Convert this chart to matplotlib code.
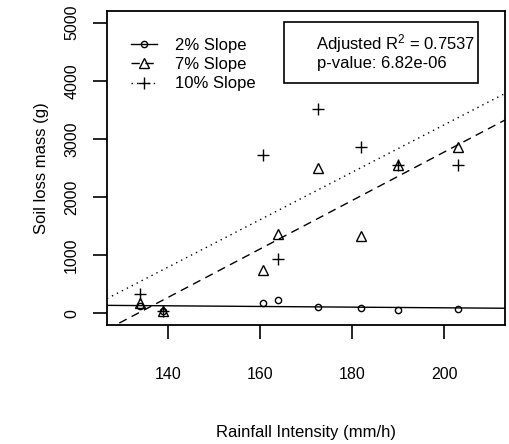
import numpy as np
import matplotlib
matplotlib.use("Agg")
import matplotlib.pyplot as plt
from matplotlib.patches import Rectangle

plt.rcParams['font.family'] = ['Liberation Sans', 'DejaVu Sans']
plt.rcParams['mathtext.fontset'] = 'custom'
plt.rcParams['mathtext.rm'] = 'Liberation Sans'
plt.rcParams['mathtext.it'] = 'Liberation Sans:italic'

# Rainfall intensity (mm/h) and soil loss (g) per slope
intensity = [134, 139, 160.6, 164, 172.5, 182, 190, 203]
loss_2 = [130, 35, 177, 234, 114, 97, 57, 68]
loss_7 = [170, 40, 743, 1372, 2504, 1331, 2550, 2858]
loss_10 = [331, 40, 2732, 943, 3520, 2858, 2550, 2560]
labels = ['2% Slope', '7% Slope', '10% Slope']
styles = [('o', '-', 4.5), ('^', (0, (6, 4)), 7), ('+', (0, (1, 3)), 8)]
stats_text = ['Adjusted R$^2$ = 0.7537', 'p-value: 6.82e-06']

fig = plt.figure(figsize=(5.1, 4.44), dpi=100)
ax = fig.add_axes([107/510, 1 - 325/444, 398/510, 314/444])

x = np.array(intensity)
xlim = (126.8, 213.2)
for y, lab, (mk, ls, ms) in zip([loss_2, loss_7, loss_10], labels, styles):
    y = np.array(y)
    ax.plot(x, y, linestyle='none', marker=mk, ms=ms, mfc='none',
            mec='black', mew=1, color='black')
    # regression line across the plot
    coef = np.polyfit(x, y, 1)
    xx = np.array(xlim)
    ax.plot(xx, np.polyval(coef, xx), color='black', lw=1, linestyle=ls)
    # legend handle
    ax.plot([], [], color='black', lw=1, linestyle=ls, marker=mk, ms=ms,
            mfc='none', mec='black', mew=1, label=lab)

ax.set_xlim(*xlim)
ax.set_ylim(-200, 5200)
ax.set_xticks([140, 160, 180, 200])
ax.set_yticks([0, 1000, 2000, 3000, 4000, 5000])
ax.tick_params(axis='both', length=10, width=1.2, labelsize=11.5)
ax.tick_params(axis='x', pad=20.5)
ax.tick_params(axis='y', pad=10)
for t in ax.get_yticklabels():
    t.set_rotation(90)
    t.set_va('center')
    t.set_ha('right')
for s in ax.spines.values():
    s.set_linewidth(1.3)

ax.set_xlabel('Rainfall Intensity (mm/h)', fontsize=12, labelpad=30.5)
ax.set_ylabel('Soil loss mass (g)', fontsize=12, labelpad=11)

ax.legend(loc='upper left', bbox_to_anchor=(0.043, 0.935), frameon=False,
          fontsize=12, handlelength=1.56, handletextpad=1.1,
          labelspacing=0.25, numpoints=1, borderaxespad=0)

ax.add_patch(Rectangle((0.445, 0.771), 0.487, 0.194, transform=ax.transAxes,
                       fill=False, lw=1.2, ec='black'))
ax.text(0.525, 0.895, stats_text[0], transform=ax.transAxes, fontsize=12,
        va='center', ha='left')
ax.text(0.528, 0.834, stats_text[1], transform=ax.transAxes, fontsize=12,
        va='center', ha='left')

fig.savefig('out.png', dpi=100)
